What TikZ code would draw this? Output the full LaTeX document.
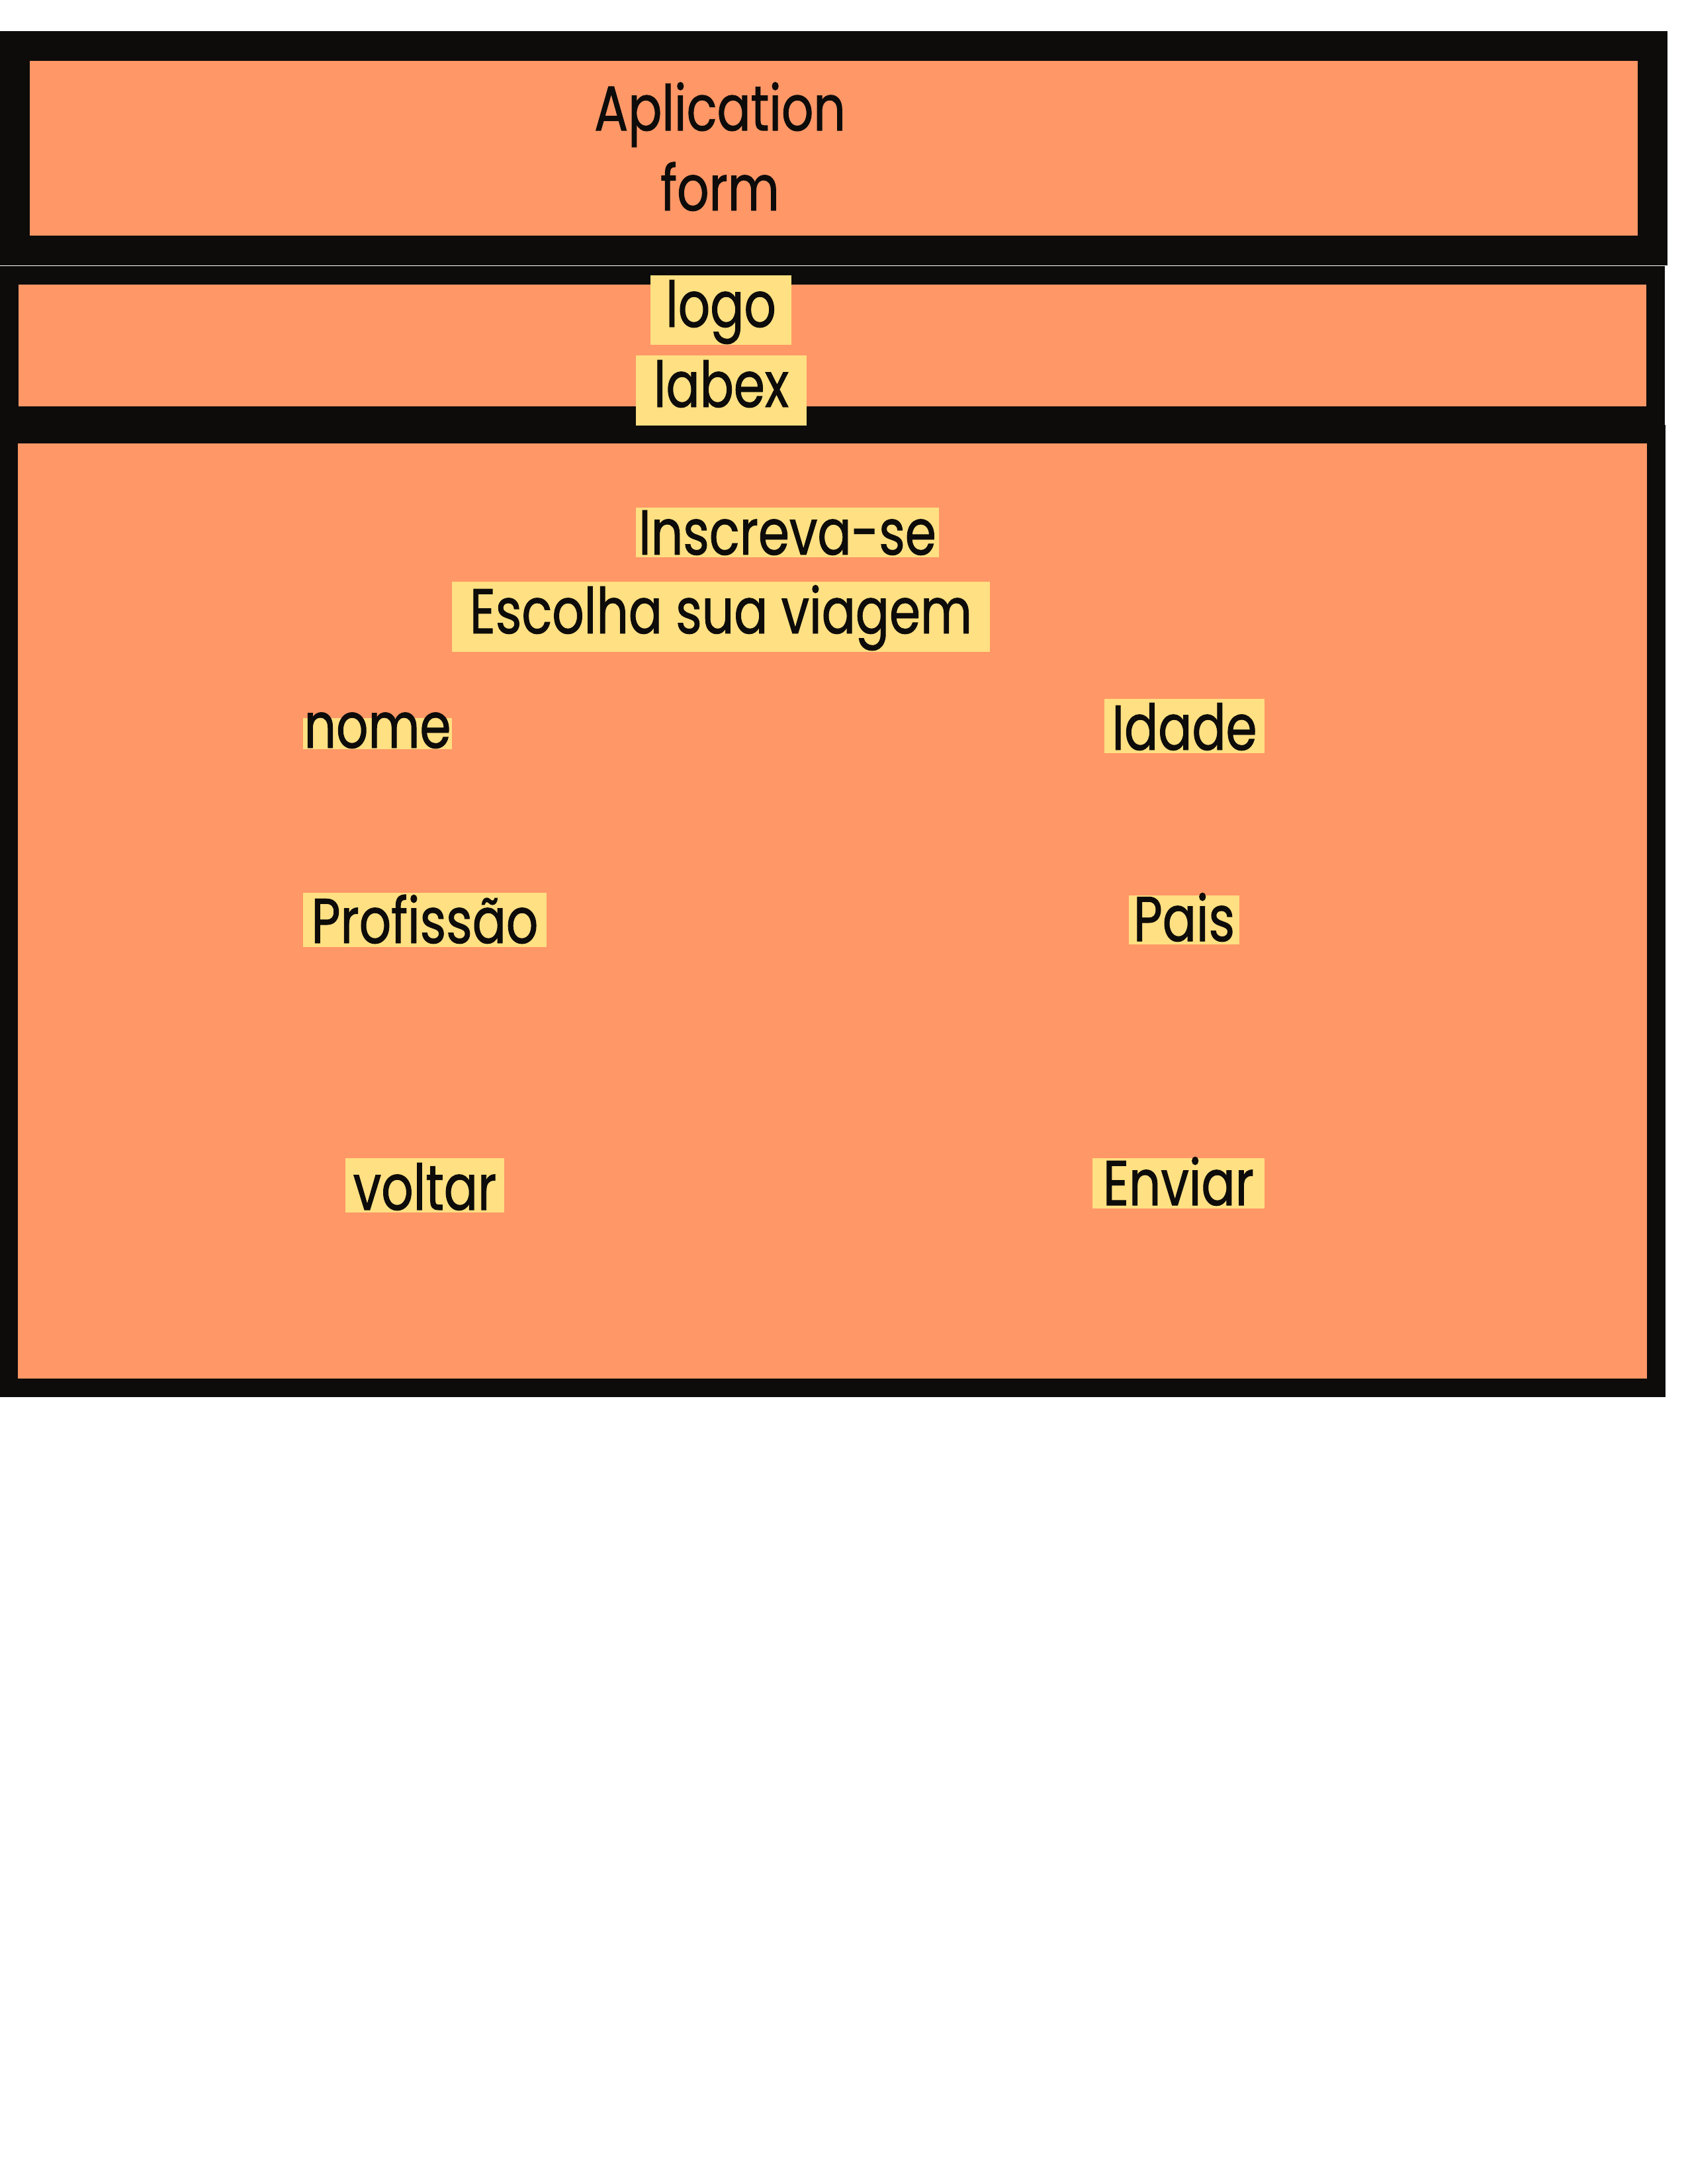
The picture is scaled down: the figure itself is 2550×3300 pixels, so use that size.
\documentclass[tikz,border=0pt]{standalone}
\usepackage{fontspec}
\setmainfont{Poppins}[FakeStretch=0.79, FakeBold=1]
\definecolor{panelorange}{RGB}{255,151,103}
\definecolor{hiliteyellow}{RGB}{255,224,130}
\definecolor{inkblack}{RGB}{13,12,10}
\begin{document}
\begin{tikzpicture}[x=0.24pt, y=-0.24pt,
            panel/.style={rectangle, draw=inkblack, fill=panelorange, inner sep=0pt},
            hilite/.style={rectangle, fill=hiliteyellow, inner xsep=0pt, inner ysep=0pt, text=inkblack,
                    font=\fontsize{23}{29}\selectfont}
        ]

        % Page and its margins
        \fill[white] (0,0) rectangle (2550,3300);
        \useasboundingbox (0,0) rectangle (2550,3300);

        % Three stacked panels of the form
        \node[panel, line width=10.8pt, minimum width=594pt, minimum height=74.28pt] (header) at (1260,223.75) {};
        \node[panel, line width=6.72pt, minimum width=597pt, minimum height=50.88pt] (logobar) at (1257.75,521.5) {};
        \node[panel, line width=6.72pt, minimum width=597.6pt, minimum height=345.84pt] (formbox) at (1258,1376.5) {};

        % Title of the header (base is the last line)
        \node[align=center, anchor=base, text=inkblack, font=\fontsize{23}{29}\selectfont] (title) at (1088,318) {Aplication\\form};

        % Highlighted labels: name / centre x / baseline / width / above / below / text
        \foreach \nm/\cx/\by/\w/\up/\dn/\txt in {
                logo/1089.5/494/213/78/27/logo,
                labex/1090/615/258/78/28/labex,
                inscreva/1190/838/458/71/4/Inscreva-se,
                escolha/1089.5/957/813/78/28/Escolha sua viagem,
                nome/570.5/1130/225/45/2/nome,
                idade/1790/1133/242/77/5/Idade,
                profissao/642/1425/368/76/6/Profissão,
                pais/1789.5/1422/167/69/5/Pais,
                voltar/642/1828/240/78/4/voltar,
                enviar/1781/1821/260/71/5/Enviar} {
                \pgfmathsetlengthmacro{\hup}{\up*0.24pt}
                \pgfmathsetlengthmacro{\hdn}{\dn*0.24pt}
                \node[hilite, minimum width=\w*0.24pt, text height=\hup, text depth=\hdn, anchor=base] (\nm) at (\cx,\by) {\txt};
            }
    \end{tikzpicture}
\end{document}
